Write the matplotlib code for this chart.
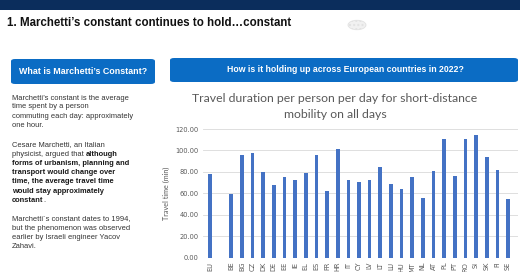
"""
Marchetti's constant slide: travel duration per person per day across EU countries.
"""

import matplotlib.pyplot as plt
from matplotlib.patches import FancyBboxPatch, Rectangle, Circle

# countries (blank slot after EU, as in the source chart)
countries = ['EU', '', 'BE', 'BG', 'CZ', 'DK', 'DE', 'EE', 'IE', 'EL', 'ES', 'FR', 'HR', 'IT',
             'CY', 'LV', 'LT', 'LU', 'HU', 'MT', 'NL', 'AT', 'PL', 'PT', 'RO', 'SI', 'SK', 'FI', 'SE']
minutes = [78, 0, 59, 95.5, 97.5, 79.5, 68, 75, 72.5, 79, 96, 62, 101.5, 72,
           71, 72, 85, 69, 64, 75, 56, 80.5, 111, 76.5, 111, 114, 94, 82, 54.5]
yticks = [0, 20, 40, 60, 80, 100, 120]

W, H = 520, 272
fig = plt.figure(figsize=(W / 100, H / 100), dpi=100)
fig.patch.set_facecolor('white')


def fx(px):
    return px / W


def fy(py):
    # pixel y from top -> figure fraction
    return 1 - py / H


# top navy band
fig.patches.append(Rectangle((0, fy(10)), 1, 10 / H, transform=fig.transFigure,
                             facecolor='#0b2d5c', edgecolor='none'))
fig.text(fx(7), fy(23), '1. Marchetti\u2019s constant continues to hold\u2026constant',
         fontsize=8.3, fontweight='bold', family='Liberation Sans', color='#111111', va='center')
# faint logo
fig.patches.append(Circle((fx(357), fy(25)), 9 / W, transform=fig.transFigure,
                          facecolor='#f1f1f1', edgecolor='#e2e2e2', lw=0.6, hatch='....'))

blue = '#0b6cc4'
# left heading box
fig.patches.append(FancyBboxPatch((fx(11), fy(84)), (155 - 11) / W, 25 / H,
                                  boxstyle='round,pad=0,rounding_size=0.008',
                                  transform=fig.transFigure, facecolor=blue, edgecolor='none'))
fig.text(fx(83), fy(71.5), 'What is Marchetti\u2019s Constant?', fontsize=6.4, fontweight='bold',
         family='Liberation Sans', color='white', ha='center', va='center')
# right heading box
fig.patches.append(FancyBboxPatch((fx(170), fy(82)), (518 - 170) / W, 24 / H,
                                  boxstyle='round,pad=0,rounding_size=0.008',
                                  transform=fig.transFigure, facecolor=blue, edgecolor='none'))
fig.text(fx(345), fy(70), 'How is it holding up across European countries in 2022?', fontsize=6.3,
         fontweight='bold', family='Liberation Sans', color='white', ha='center', va='center')

# left body text: (y, [(text, bold), ...])
body = [
    (98, [('Marchetti\u2019s constant is the average', False)]),
    (107, [('time spent by a person', False)]),
    (116.5, [('commuting each day: approximately', False)]),
    (125.5, [('one hour.', False)]),
    (145, [('Cesare Marchetti, an Italian', False)]),
    (154, [('physicist, argued that', False), ('although', True)]),
    (163.3, [('forms of urbanism, planning and', True)]),
    (172.6, [('transport would change over', True)]),
    (181.9, [('time, the average travel time', True)]),
    (191.2, [('would stay approximately', True)]),
    (200.5, [('constant', True), ('.', False)]),
    (219, [('Marchetti\u00b4s constant dates to 1994,', False)]),
    (228.3, [('but the phenomenon was observed', False)]),
    (237.6, [('earlier by Israeli engineer Yacov', False)]),
    (246.9, [('Zahavi.', False)]),
]
renderer = fig.canvas.get_renderer()
for y, parts in body:
    x = 12
    for txt, bold in parts:
        t = fig.text(fx(x), fy(y), txt, fontsize=5.4, family='Liberation Sans',
                     fontweight='bold' if bold else 'normal',
                     color='#1a1a1a' if bold else '#333333', va='center')
        # next piece: a space after words, none before punctuation
        x += t.get_window_extent(renderer).width + (1.6 if txt[-1].isalpha() and not bold else 0.2)

# chart
ax = fig.add_axes([fx(203), fy(257.7), (518 - 203) / W, (257.7 - 129) / H])
pos = list(range(len(countries)))
ax.bar(pos, minutes, width=0.34, color='#4472c4', zorder=3)
ax.set_xlim(-0.66, 28.94)
ax.set_ylim(0, 120)
ax.set_yticks(yticks)
ax.set_yticklabels(['%.2f' % v for v in yticks], fontsize=4.8, color='#595959')
ax.set_xticks(pos)
ax.set_xticklabels(countries, rotation=90, fontsize=4.8, color='#595959')
ax.tick_params(length=0, pad=3)
ax.grid(axis='y', color='#d9d9d9', lw=0.6, zorder=0)
for s in ax.spines.values():
    s.set_visible(False)
ax.set_ylabel('Travel time (min)', fontsize=5.2, color='#595959', family='Lato', labelpad=4)

fig.text(fx(335), fy(98), 'Travel duration per person per day for short-distance',
         fontsize=8.8, family='Lato', color='#595959', ha='center', va='center')
fig.text(fx(335), fy(114), 'mobility on all days',
         fontsize=8.8, family='Lato', color='#595959', ha='center', va='center')

fig.savefig('out.png', dpi=100)
